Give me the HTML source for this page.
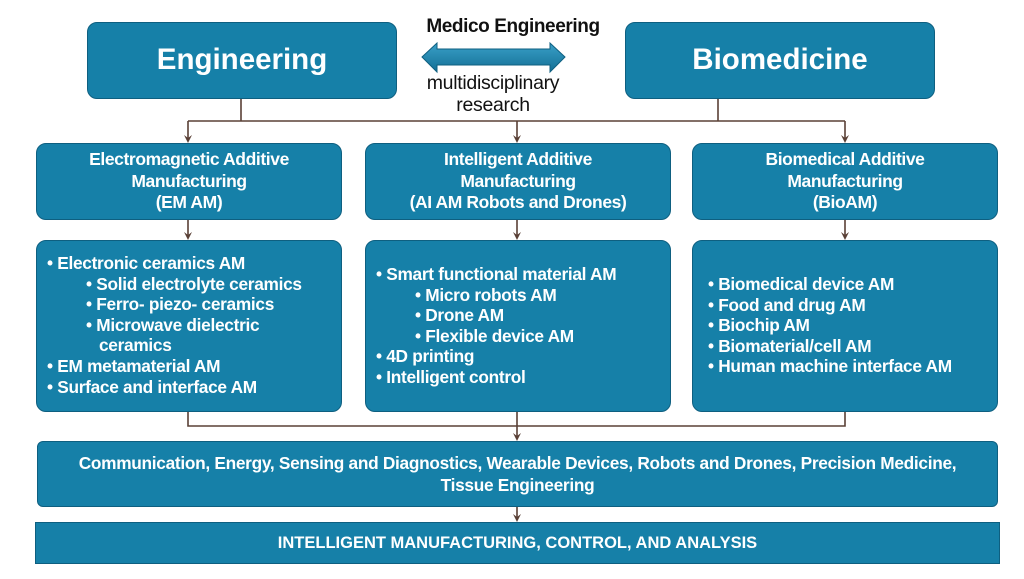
<!DOCTYPE html>
<html><head><meta charset="utf-8"><style>
body{margin:0;width:1024px;height:579px;background:#fff;position:relative;overflow:hidden;font-family:"Liberation Sans",sans-serif;}
.b{position:absolute;background:#1680a8;border:1px solid #0e5f80;box-sizing:border-box;border-radius:10px;color:#fff;font-weight:bold;}
.t{position:absolute;text-align:center;width:100%;}
.h{font-size:29.5px;}
.s{font-size:17.5px;line-height:21.5px;letter-spacing:-0.4px;}
.l{position:absolute;font-size:17.3px;line-height:20.6px;letter-spacing:-0.3px;white-space:nowrap;}
.i{padding-left:39px}
.i2{padding-left:52px}
.k{position:absolute;color:#111;text-align:center;}
</style></head><body>
<svg width="1024" height="579" style="position:absolute;left:0;top:0">
<defs>
<linearGradient id="g" x1="0" y1="0" x2="0" y2="1"><stop offset="0" stop-color="#3aa0c8"/><stop offset="1" stop-color="#136f95"/></linearGradient></defs>
<g stroke="#5a4036" stroke-width="1.6" fill="none">
<path d="M241 99 V121 M718 99 V121 M188 121 H845"/>
<path d="M188 121 V140 M517 121 V140 M845 121 V140"/>
<path d="M188 220 V237 M517 220 V237 M845 220 V237"/>
<path d="M188 412 V426 H845 V412 M517 412 V438"/>
<path d="M517 507 V519"/>
</g>
<g fill="#5a4036">
<path d="M184 135 L188 143 L192 135 L188 138Z"/>
<path d="M513 135 L517 143 L521 135 L517 138Z"/>
<path d="M841 135 L845 143 L849 135 L845 138Z"/>
<path d="M184 232 L188 240 L192 232 L188 235Z"/>
<path d="M513 232 L517 240 L521 232 L517 235Z"/>
<path d="M841 232 L845 240 L849 232 L845 235Z"/>
<path d="M513 433 L517 441 L521 433 L517 436Z"/>
<path d="M513 514 L517 522 L521 514 L517 517Z"/>
</g>
<path d="M422 57 L437 43 L437 49 L550 49 L550 43 L565 57 L550 72 L550 65 L437 65 L437 72 Z" fill="url(#g)" stroke="#0e5f80" stroke-width="1"/>
</svg>
<div class="k" style="left:393px;top:16px;width:240px;font-weight:bold;font-size:19px;letter-spacing:-0.4px;">Medico Engineering</div>
<div class="k" style="left:393px;top:72px;width:200px;line-height:22px;font-size:19.5px;letter-spacing:-0.3px;">multidisciplinary<br>research</div>

<div class="b" style="left:87px;top:22px;width:310px;height:77px;"><div class="t h" style="top:20px">Engineering</div></div>
<div class="b" style="left:625px;top:22px;width:310px;height:77px;"><div class="t h" style="top:20px">Biomedicine</div></div>

<div class="b" style="left:36px;top:143px;width:306px;height:77px;"><div class="t s" style="top:5px">Electromagnetic Additive<br>Manufacturing<br>(EM AM)</div></div>
<div class="b" style="left:365px;top:143px;width:306px;height:77px;"><div class="t s" style="top:5px">Intelligent Additive<br>Manufacturing<br>(AI AM Robots and Drones)</div></div>
<div class="b" style="left:692px;top:143px;width:306px;height:77px;"><div class="t s" style="top:5px">Biomedical Additive<br>Manufacturing<br>(BioAM)</div></div>

<div class="b" style="left:36px;top:240px;width:306px;height:172px;"><div class="l" style="left:10px;top:12px">
• Electronic ceramics AM<br><div class="i">• Solid electrolyte ceramics<br>• Ferro- piezo- ceramics<br>• Microwave dielectric</div><div class="i2">ceramics</div>• EM metamaterial AM<br>• Surface and interface AM</div></div>
<div class="b" style="left:365px;top:240px;width:306px;height:172px;"><div class="l" style="left:10px;top:23px">
• Smart functional material AM<br><div class="i">• Micro robots AM<br>• Drone AM<br>• Flexible device AM</div>• 4D printing<br>• Intelligent control</div></div>
<div class="b" style="left:692px;top:240px;width:306px;height:172px;"><div class="l" style="left:15px;top:33px">
• Biomedical device AM<br>• Food and drug AM<br>• Biochip AM<br>• Biomaterial/cell AM<br>• Human machine interface AM</div></div>

<div class="b" style="left:37px;top:441px;width:961px;height:66px;border-radius:6px;"><div class="t s" style="top:11px;font-size:17.3px;letter-spacing:-0.3px">Communication, Energy, Sensing and Diagnostics, Wearable Devices, Robots and Drones, Precision Medicine,<br>Tissue Engineering</div></div>
<div class="b" style="left:35px;top:522px;width:965px;height:42px;border-radius:0;"><div class="t" style="top:11px;font-size:16.5px">INTELLIGENT MANUFACTURING, CONTROL, AND ANALYSIS</div></div>
</body></html>
